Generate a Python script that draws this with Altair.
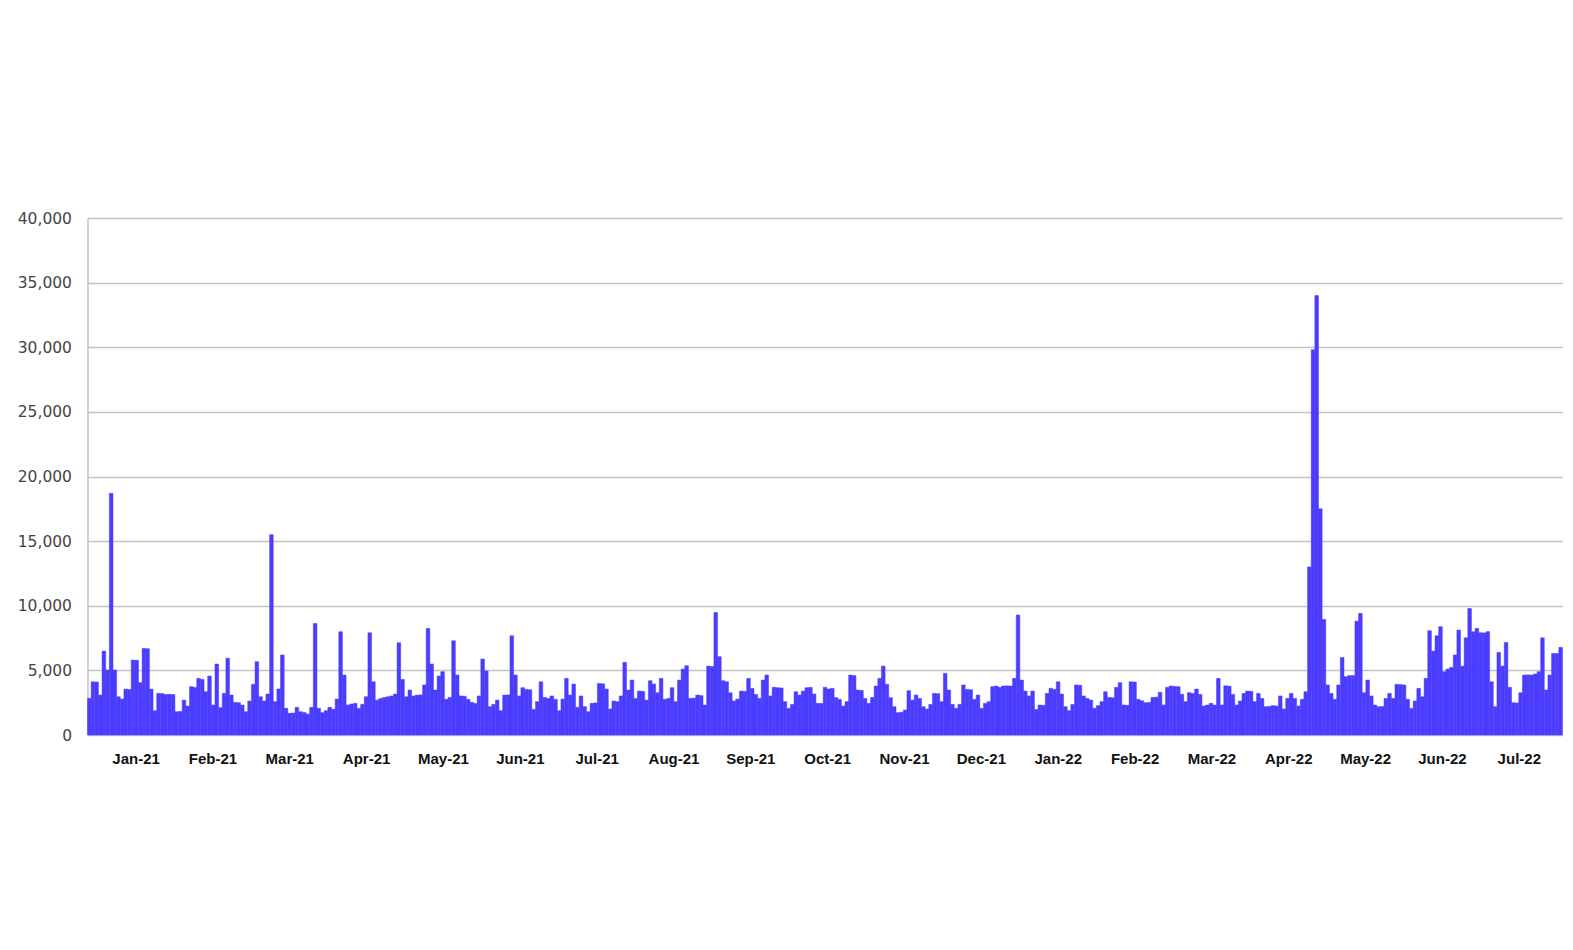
import altair as alt
import pandas as pd

# Daily values, read left to right from the picture (split into chunks)
seg_01 = [2840, 4120, 4100, 3090, 6490, 5030, 18700, 5030, 2960, 2780, 3550, 3520, 5800, 5780, 4050, 6700, 6680,
          3550, 1880, 3220, 3200, 3140, 3150, 3130, 1800, 1820, 2700, 2240, 3740, 3680, 4380, 4300, 3350, 4560]
seg_02 = [2320, 5490, 2110, 3220, 5930, 3090, 2525, 2500, 2320, 1800, 2630, 3920, 5670, 2960, 2630, 3170, 15500,
          2580, 3560, 6190, 2060, 1680, 1700, 2140, 1800, 1750, 1620, 2140, 8630, 2060, 1730, 1880, 2140]
seg_03 = [2000, 2780, 7990, 4640, 2320, 2400, 2450, 2060, 2370, 2960, 7910, 4120, 2700, 2830, 2900, 2960, 3020,
          3170, 7140, 4300, 2960, 3480, 3020, 3090, 3100, 3870, 8250, 5490, 3480, 4560, 4900, 2760, 2910, 7290]
seg_04 = [4640, 3020, 3000, 2760, 2530, 2450, 3020, 5880, 4950, 2190, 2370, 2700, 1880, 3090, 3100, 7680, 4640,
          3020, 3660, 3530, 3500, 1980, 2580, 4120, 2910, 2830, 3020, 2760, 1880, 2780, 4380, 3090, 3940]
seg_05 = [2140, 3020, 2190, 1800, 2450, 2480, 3990, 3960, 3560, 2010, 2630, 2580, 3020, 5620, 3480, 4250, 2830,
          3400, 3380, 2700, 4200, 3940, 3270, 4380, 2760, 2830, 3660, 2580, 4250, 5100, 5360, 2830, 2850, 3090]
seg_06 = [3050, 2320, 5330, 5300, 9480, 6060, 4200, 4120, 3270, 2630, 2780, 3400, 3380, 4380, 3610, 3140, 2830,
          4250, 4640, 3020, 3690, 3660, 3640, 2580, 2060, 2370, 3350, 3090, 3400, 3660, 3690, 3170, 2450, 2440]
seg_07 = [3690, 3560, 3610, 2890, 2760, 2240, 2580, 4640, 4600, 3480, 3450, 2830, 2450, 2910, 3790, 4380, 5330,
          3920, 2890, 2190, 1730, 1760, 1930, 3430, 2700, 3090, 2830, 2190, 2010, 2370, 3220, 3200, 2580, 4770]
seg_08 = [3480, 2370, 2060, 2370, 3870, 3530, 3500, 2760, 3090, 2060, 2450, 2580, 3740, 3790, 3690, 3790, 3800,
          3790, 4380, 9280, 4250, 3400, 3020, 3400, 1980, 2320, 2300, 3220, 3610, 3530, 4120, 3170, 2190]
seg_09 = [1880, 2370, 3870, 3850, 3020, 2830, 2700, 2060, 2270, 2580, 3350, 2910, 2890, 3690, 4050, 2320, 2300,
          4120, 4100, 2760, 2650, 2500, 2520, 2910, 2930, 3300, 2320, 3690, 3790, 3760, 3740, 3150, 2580, 3280]
seg_10 = [3220, 3560, 3140, 2240, 2320, 2450, 2320, 4380, 2320, 3810, 3780, 3140, 2320, 2630, 3220, 3400, 3380,
          2580, 3220, 2830, 2190, 2210, 2270, 2240, 3020, 2010, 2830, 3220, 2830, 2240, 2760, 3350, 13000, 29800]
seg_11 = [34000, 17500, 8940, 3870, 3220, 2760, 3870, 6000, 4510, 4590, 4600, 8810, 9410, 3270, 4250, 3020, 2320,
          2190, 2200, 2830, 3220, 2830, 3920, 3900, 3870, 2760, 2060, 2630, 3610, 2960, 4380, 8070, 6490, 7680]
seg_12 = [8380, 4900, 5100, 5230, 6190, 8120, 5330, 7520, 9790, 7990, 8250, 7910, 7900, 8000, 4120, 2190, 6390,
          5330, 7160, 3690, 2500, 2480, 3270, 4640, 4650, 4640, 4720, 4900, 7520, 3480, 4640, 6310, 6300, 6780]

month_labels = ["Jan-21", "Feb-21", "Mar-21", "Apr-21", "May-21", "Jun-21", "Jul-21", "Aug-21", "Sep-21",
                "Oct-21", "Nov-21", "Dec-21", "Jan-22", "Feb-22", "Mar-22", "Apr-22", "May-22", "Jun-22", "Jul-22"]
y_ticks = [0, 5000, 10000, 15000, 20000, 25000, 30000, 35000, 40000]

values = (seg_01 + seg_02 + seg_03 + seg_04 + seg_05 + seg_06 + seg_07 + seg_08 + seg_09 + seg_10
          + seg_11 + seg_12)
n = len(values)
df = pd.DataFrame({"i": list(range(n)), "i2": list(range(1, n + 1)), "v": values, "base": [0] * n})

first_label = 13.2
label_step = 21.1
label_pos = [first_label + label_step * k for k in range(len(month_labels))]
label_array = "[" + ",".join("'" + m + "'" for m in month_labels) + "]"
label_expr = f"{label_array}[round((datum.value - {first_label}) / {label_step})]"

X_FONT = "Liberation Sans"
Y_FONT = "DejaVu Sans"
BAR = "#4B3DFF"

chart = alt.Chart(df).mark_bar(color=BAR, stroke=BAR, strokeWidth=0.5).encode(
    x=alt.X("i:Q",
            scale=alt.Scale(domain=[0, n], nice=False, zero=False),
            axis=alt.Axis(values=label_pos, labelExpr=label_expr, title=None, grid=False, ticks=False,
                          domain=False, labelFont=X_FONT, labelFontSize=15, labelFontWeight="bold",
                          labelColor="#111111", labelPadding=16, labelFlush=False, labelOverlap=False)),
    x2="i2:Q",
    y=alt.Y("v:Q",
            scale=alt.Scale(domain=[0, 40000], nice=False),
            axis=alt.Axis(values=y_ticks, format=",.0f", title=None, grid=True, gridColor="#c4c4c4",
                          gridWidth=1.5, ticks=False, domain=True, domainColor="#c4c4c4", domainWidth=1.5,
                          labelFont=Y_FONT, labelFontSize=15.5, labelColor="#444444", labelPadding=16)),
    y2="base:Q",
).properties(
    width=1475,
    height=517,
    background="white",
    autosize=alt.AutoSizeParams(type="none"),
    padding={"left": 79.5, "top": 210, "right": 2, "bottom": 100},
).configure_view(stroke=None)

chart.save("out.html", embed_options={"renderer": "svg", "actions": False})
